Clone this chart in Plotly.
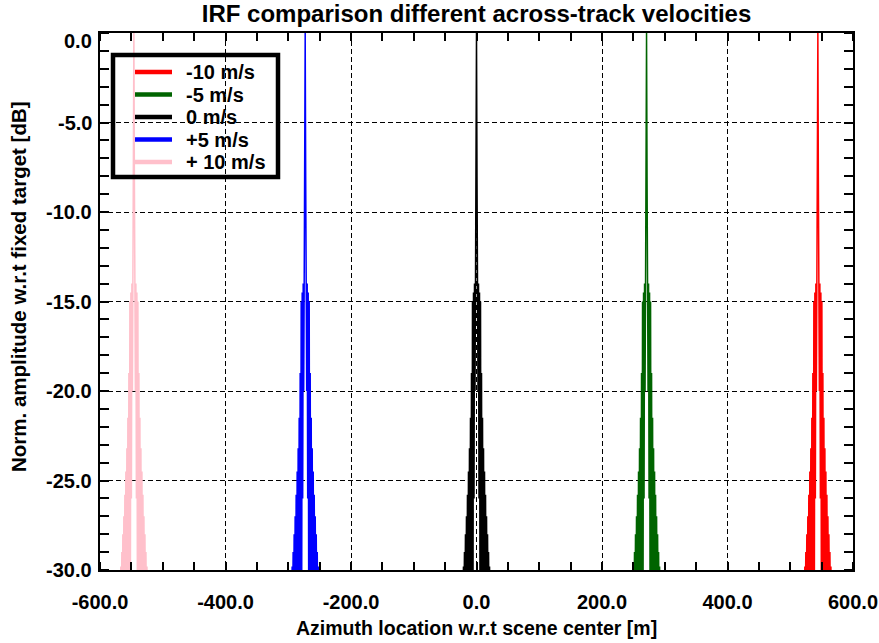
import plotly.graph_objects as go

# ---------------- data ----------------
series_names = ["-10 m/s", "-5 m/s", "0 m/s", "+5 m/s", "+ 10 m/s"]
series_colors = ["#ff0000", "#006400", "#000000", "#0000ff", "#ffc0cb"]
# azimuth position of each IRF peak [m]
peak_centers = [544, 271, 0, -273, -546]

# IRF shape: offset from peak [m] and normalised amplitude [dB]
irf_offset_m = [-21.6, -20.8, -20.0, -19.2, -18.4, -17.6, -16.8, -16.0, -15.2,
                -14.4, -13.6, -12.8, -12.0, -11.2, -10.4, -9.6, -8.8, -8.0,
                -7.2, -6.4, -5.6, -4.8, -4.0, -3.2, -2.4, -1.6, -0.8, 0.0,
                0.8, 1.6, 2.4, 3.2, 4.0, 4.8, 5.6, 6.4, 7.2, 8.0, 8.8, 9.6,
                10.4, 11.2, 12.0, 12.8, 13.6, 14.4, 15.2, 16.0, 16.8, 17.6,
                18.4, 19.2, 20.0, 20.8, 21.6]
irf_db = [-32, -29.8, -32, -29, -32, -28, -32, -27, -32,
          -25.8, -32, -24.5, -32, -23.2, -32, -21.5, -32, -19.0,
          -32, -15.0, -32, -14.5, -26, -14, -20, -14, -8, 0,
          -8, -14, -20, -14, -26, -14.5, -32, -15.0, -32, -19.0, -32, -21.5,
          -32, -23.2, -32, -24.5, -32, -25.8, -32, -27, -32, -28,
          -32, -29, -32, -29.8, -32]

x_tickvals = [-600, -400, -200, 0, 200, 400, 600]
x_ticktext = ["-600.0", "-400.0", "-200.0", "0.0", "200.0", "400.0", "600.0"]
y_tickvals = [0, -5, -10, -15, -20, -25, -30]
y_ticktext = ["0.0", "-5.0", "-10.0", "-15.0", "-20.0", "-25.0", "-30.0"]

title_text = "IRF comparison different across-track velocities"
x_title = "Azimuth location w.r.t scene center [m]"
y_title = "Norm. amplitude w.r.t fixed target [dB]"

# ---------------- figure ----------------
W, H = 879, 643
ML, MR, MT, MB = 100, 26, 33, 73
PW, PH = W - ML - MR, H - MT - MB
FAM = "Liberation Sans, Arial, Helvetica, sans-serif"


def px_x(px):
    return (px - ML) / PW


def px_y(py):
    return (H - MB - py) / PH


fig = go.Figure()
for name, col, c in zip(series_names, series_colors, peak_centers):
    fig.add_trace(go.Scatter(
        x=[c + o for o in irf_offset_m], y=irf_db, mode="lines", name=name,
        line=dict(color=col, width=1.5), showlegend=False))

axis_common = dict(
    showline=True, linecolor="black", linewidth=1.5, mirror="allticks",
    showgrid=True, gridcolor="black", gridwidth=1, griddash="5px,3px",
    zeroline=False, ticks="", automargin=False,
)

fig.update_xaxes(
    range=[-600, 600], tickvals=x_tickvals, ticktext=x_ticktext,
    tickfont=dict(family=FAM, size=20, color="black", weight="bold"),
    ticklabelstandoff=13,
    minor=dict(dtick=50, tick0=-600, ticks="inside", ticklen=8,
               tickwidth=1.5, tickcolor="black", showgrid=False),
    **axis_common)
fig.update_yaxes(
    range=[-30, 0], tickvals=y_tickvals, showticklabels=False,
    minor=dict(dtick=1, tick0=-30, ticks="inside", ticklen=9,
               tickwidth=1.5, tickcolor="black", showgrid=False),
    **axis_common)

annotations = []
# y tick labels (IDL keeps the top label inside the frame)
for v, t in zip(y_tickvals, y_ticktext):
    annotations.append(dict(
        x=px_x(94), xref="paper", y=v, yref="y", text=t, showarrow=False,
        xanchor="right", yanchor="middle", yshift=-8 if v == 0 else 0,
        font=dict(family=FAM, size=20, color="black", weight="bold")))
# axis titles
annotations.append(dict(
    x=0.5, xref="paper", y=px_y(628), yref="paper", text=x_title,
    showarrow=False, xanchor="center", yanchor="middle",
    font=dict(family=FAM, size=19.5, color="black", weight="bold")))
annotations.append(dict(
    x=px_x(18), xref="paper", y=px_y(287), yref="paper", text=y_title,
    showarrow=False, xanchor="center", yanchor="middle", textangle=-90,
    font=dict(family=FAM, size=20.5, color="black", weight="bold")))

# legend (IDL style, transparent box)
shapes = [dict(type="rect", xref="paper", yref="paper",
               x0=px_x(113), x1=px_x(278), y0=px_y(177), y1=px_y(55),
               line=dict(color="black", width=4.5), fillcolor="rgba(0,0,0,0)",
               layer="above")]
leg_y = [72, 94.5, 117, 139.5, 162]
for name, col, ly in zip(series_names, series_colors, leg_y):
    shapes.append(dict(type="line", xref="paper", yref="paper",
                       x0=px_x(135), x1=px_x(172), y0=px_y(ly), y1=px_y(ly),
                       line=dict(color=col, width=4.5), layer="above"))
    annotations.append(dict(
        x=px_x(184), xref="paper", y=px_y(ly), yref="paper", text=name,
        showarrow=False, xanchor="left", yanchor="middle",
        font=dict(family=FAM, size=20, color="black", weight="bold")))

fig.update_layout(
    width=W, height=H,
    margin=dict(l=ML, r=MR, t=MT, b=MB, pad=0, autoexpand=False),
    paper_bgcolor="white", plot_bgcolor="white",
    font=dict(family=FAM, size=20, color="black", weight="bold"),
    title=dict(text=title_text, x=0.5, xref="paper", xanchor="center",
               y=1 - 14 / H, yref="container", yanchor="middle",
               font=dict(family=FAM, size=24, color="black", weight="bold")),
    annotations=annotations, shapes=shapes, showlegend=False,
)

fig.write_html("out.html")
